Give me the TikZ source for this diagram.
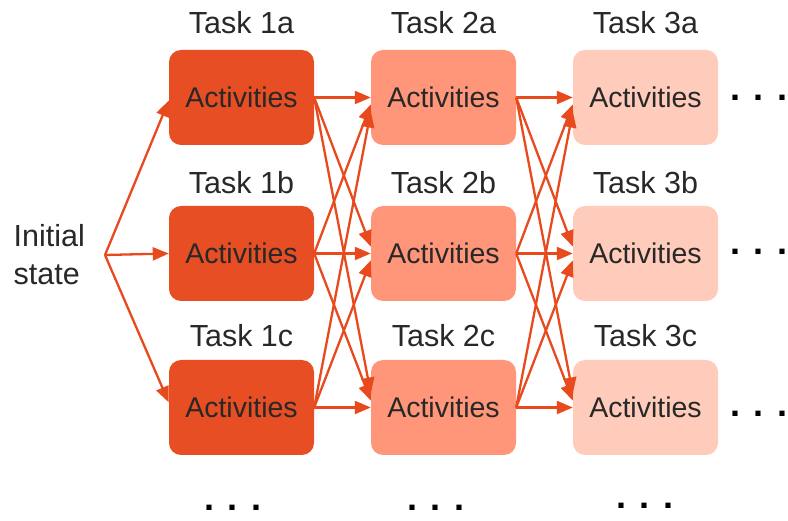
\documentclass[tikz,border=0pt]{standalone}
\usepackage{fontspec}
\setmainfont{Liberation Sans}
\usetikzlibrary{positioning,arrows.meta}
\definecolor{taskone}{RGB}{232,78,35}
\definecolor{tasktwo}{RGB}{255,150,122}
\definecolor{taskthree}{RGB}{255,203,187}
\definecolor{flowline}{RGB}{232,74,30}
\definecolor{inktext}{RGB}{40,40,40}
\tikzset{
	activity/.style={rounded corners=12pt,minimum width=145pt,minimum height=95pt,inner sep=0pt,text=inktext,font=\fontsize{28.5}{30}\selectfont},
	tasklabel/.style={anchor=base,inner sep=0pt,text=inktext,font=\fontsize{30.5}{32}\selectfont},
	flow/.style={draw=flowline,line width=2.3pt,-{Triangle[length=16pt,width=13pt]}},
	moredots/.style={inner sep=0pt,font=\bfseries\fontsize{36}{36}\selectfont}
}
\begin{document}
\begin{tikzpicture}[x=1pt,y=-1pt]
\useasboundingbox (0,0) rectangle (788,521);
% task boxes and their labels
\foreach \c/\x/\col in {1/241.5/taskone,2/443.5/tasktwo,3/645.5/taskthree}
	\foreach \r/\y/\ly in {a/97.5/34,b/253.5/194,c/407.5/347}
	{
		\node[activity,fill=\col] (t\c\r) at (\x,\y) {Activities};
		\node[tasklabel] (l\c\r) at (\x,\ly) {Task \c\r};
	}
% initial state
\coordinate (init) at (105,255);
\node[left=20pt of init,align=left,inner sep=0pt,text=inktext,font=\fontsize{30.5}{38}\selectfont] (start) {Initial\\state};
\foreach \r/\s in {a/-3,b/0,c/5}
	\draw[flow] (init) -- ([yshift=\s]t1\r.west);
% every task feeds every task of the next column
\foreach \c/\n in {1/2,2/3}
	\foreach \s/\si in {a/0,b/1,c/2}
		\foreach \t/\ti in {a/0,b/1,c/2}
			\draw[flow] (t\c\s.east) -- ([yshift={7*(\ti-\si)}]t\n\t.west);
% continuation dots
\foreach \r/\y in {a/98,b/252,c/414}
	\node[moredots] (d\r) at (759,\y) {. . .};
\foreach \c/\x/\y in {1/233/508,2/436/508,3/645/506}
	\node[moredots] (e\c) at (\x,\y) {. . .};
\end{tikzpicture}
\end{document}
